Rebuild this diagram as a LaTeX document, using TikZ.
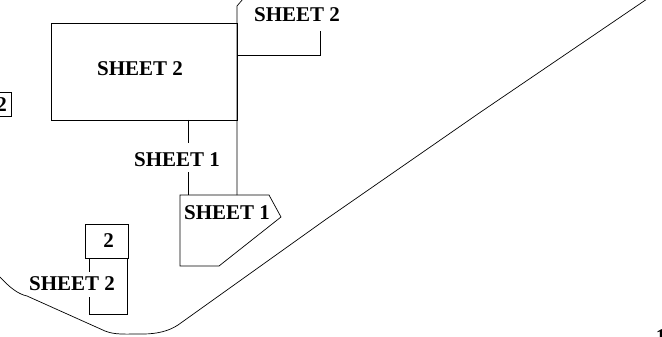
\documentclass[tikz,border=0pt]{standalone}
\usepackage{fontspec}
\setmainfont{Liberation Serif}
\usetikzlibrary{positioning,calc}
\tikzset{line/.style={line width=0.7pt}, box/.style={draw, line width=0.7pt, inner sep=0pt, align=center},
sheetlabel/.style={font=\fontsize{21}{23}\selectfont\bfseries, inner sep=0pt}}

\begin{document}
\begin{tikzpicture}[x=1pt, y=-1pt]
\useasboundingbox (0,0) rectangle (662,337);

% sheet boxes
\node[box, minimum width=186pt, minimum height=97pt, sheetlabel] (mainbox) at (144,71.5) {\raisebox{5pt}{SHEET 2}\hspace{8pt}};
\node[box, minimum width=43pt, minimum height=34pt, sheetlabel] (numbox) at (106.5,241) {\hspace{4pt}2};
\node[box, minimum width=30pt, minimum height=24pt, sheetlabel, anchor=north east] (leftbox) at (12,92) {\hspace{10pt}2};

% labels
\node[sheetlabel] (topsheet) at (297,15) {SHEET 2};
\node[sheetlabel] (midsheet) at (177,160) {SHEET 1};
\node[sheetlabel] (lowsheet) at (72,283.5) {SHEET 2};
\node[sheetlabel, anchor=north] (cutnum) at (661,329) {1};

% pentagon with its label
\coordinate (penta) at (180,195);
\draw[line] (penta) -- (269,195) -- (281,217) -- (219,266) -- (180,266) -- cycle;
\node[sheetlabel] (pentasheet) at (227,212.5) {SHEET 1};

% bus from the top edge
\draw[line] (243,-1) -- (237,6) -- (237,195);
\draw[line] (237,55) -| (320,31);
\draw[line] (188,120) -- (188,143);
\draw[line] (188,172) -- (188,195);

% loop under the small box
\draw[line] (89,258) -- (89,272);
\draw[line] (89,297) -- (89,314) -- (127,314) -- (127,258);

% outer edge
\draw[line] (-2,275) .. controls (10,288) and (18,294) .. (27,296) -- (105,331)
  .. controls (115,335) and (125,334) .. (143,334) .. controls (157,334) and (169,331) .. (178,325)
  -- (325,220) -- (480,112.5) -- (647,-1);
\end{tikzpicture}
\end{document}
